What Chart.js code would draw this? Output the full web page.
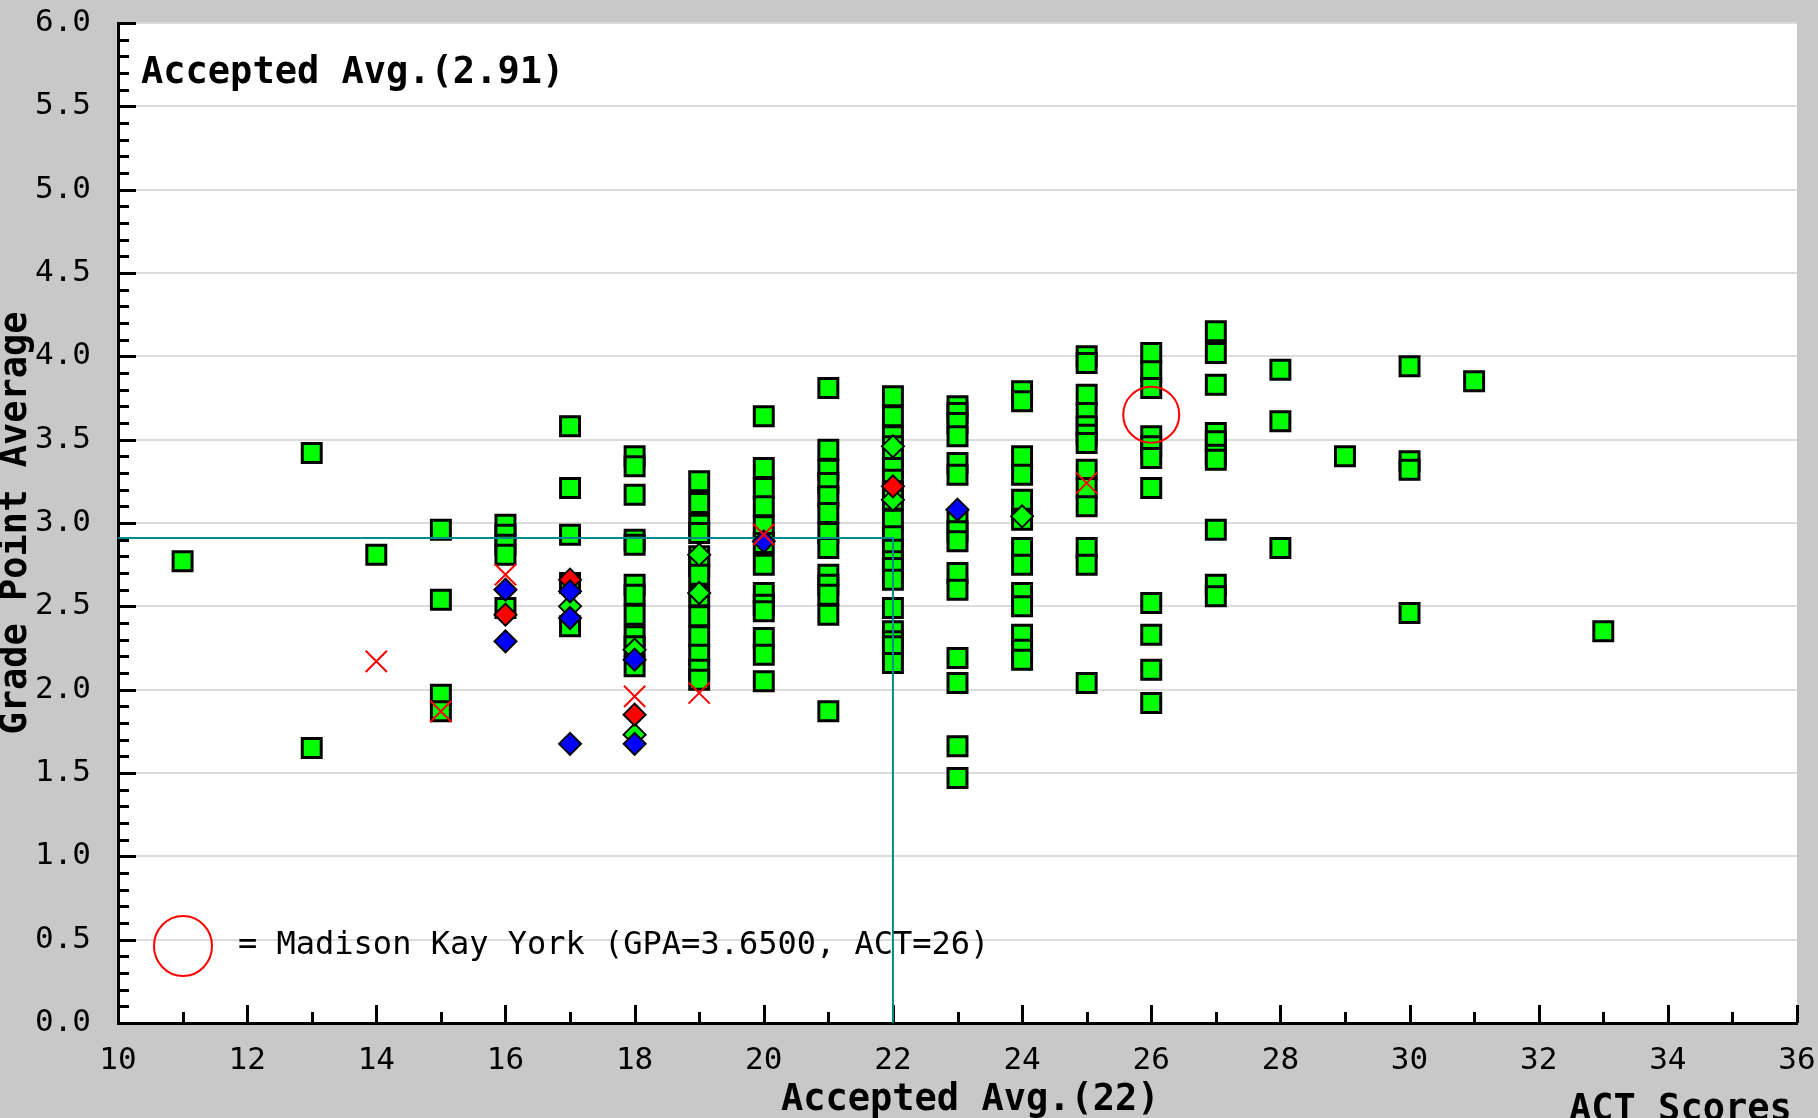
<!DOCTYPE html>
<html>
<head>
<meta charset="utf-8">
<script src="https://cdn.jsdelivr.net/npm/chart.js@4.4.1/dist/chart.umd.min.js"></script>
<style>
  html, body { margin: 0; padding: 0; background: #c8c8c8; }
  canvas { display: block; }
</style>
</head>
<body>
<canvas id="scattergram" width="1818" height="1118" style="width:1818px;height:1118px"></canvas>
<script>
// Médias dos aceitos
const avgAct = 22;
const avgGpa = 2.91;

// Aluna destacada
const student = { name: "Madison Kay York", gpa: 3.65, act: 26 };

// Pontos [ACT, GPA] por tipo de resultado
const accepted = [
  [11, 2.77],
  [13, 3.42], [13, 1.65],
  [14, 2.81],
  [15, 2.96], [15, 2.54], [15, 1.97], [15, 1.87],
  [16, 2.99], [16, 2.93], [16, 2.87], [16, 2.81], [16, 2.49],
  [17, 3.58], [17, 3.21], [17, 2.93], [17, 2.64], [17, 2.38],
  [18, 3.40], [18, 3.34], [18, 3.17], [18, 2.90], [18, 2.87], [18, 2.63], [18, 2.57],
  [18, 2.45], [18, 2.32], [18, 2.26], [18, 2.14],
  [19, 3.25], [19, 3.12], [19, 2.99], [19, 2.94], [19, 2.80], [19, 2.74], [19, 2.69],
  [19, 2.56], [19, 2.44], [19, 2.32], [19, 2.21], [19, 2.12], [19, 2.06],
  [20, 3.64], [20, 3.33], [20, 3.21], [20, 3.10], [20, 2.98], [20, 2.88], [20, 2.75],
  [20, 2.58], [20, 2.51], [20, 2.47], [20, 2.31], [20, 2.21], [20, 2.05],
  [21, 3.81], [21, 3.44], [21, 3.32], [21, 3.24], [21, 3.16], [21, 3.06], [21, 2.94],
  [21, 2.85], [21, 2.69], [21, 2.63], [21, 2.57], [21, 2.45], [21, 1.87],
  [22, 3.76], [22, 3.64], [22, 3.52], [22, 3.46], [22, 3.40], [22, 3.33], [22, 3.26],
  [22, 3.19], [22, 3.14], [22, 3.02], [22, 2.92], [22, 2.84], [22, 2.77], [22, 2.73],
  [22, 2.66], [22, 2.49], [22, 2.35], [22, 2.29], [22, 2.26], [22, 2.16],
  [23, 3.70], [23, 3.66], [23, 3.60], [23, 3.52], [23, 3.36], [23, 3.29], [23, 3.02],
  [23, 2.95], [23, 2.89], [23, 2.70], [23, 2.60], [23, 2.19], [23, 2.04], [23, 1.66], [23, 1.47],
  [24, 3.79], [24, 3.73], [24, 3.40], [24, 3.29], [24, 3.14], [24, 3.02], [24, 2.85],
  [24, 2.75], [24, 2.58], [24, 2.50], [24, 2.33], [24, 2.24], [24, 2.18],
  [25, 4.00], [25, 3.96], [25, 3.77], [25, 3.66], [25, 3.58], [25, 3.53], [25, 3.48],
  [25, 3.32], [25, 3.21], [25, 3.10], [25, 2.85], [25, 2.75], [25, 2.04],
  [26, 4.02], [26, 3.91], [26, 3.81], [26, 3.52], [26, 3.46], [26, 3.39], [26, 3.21],
  [26, 2.52], [26, 2.33], [26, 2.12], [26, 1.92],
  [27, 4.15], [27, 4.02], [27, 3.83], [27, 3.54], [27, 3.49], [27, 3.41], [27, 3.38],
  [27, 2.96], [27, 2.63], [27, 2.56],
  [28, 3.92], [28, 3.61], [28, 2.85],
  [29, 3.40],
  [30, 3.94], [30, 3.37], [30, 3.32], [30, 2.46],
  [31, 3.85],
  [33, 2.35]
];
const denied = [[14, 2.17], [15, 1.87], [16, 2.69], [18, 1.96], [19, 1.98], [20, 2.93], [25, 3.24]];
const waitlisted = [[16, 2.60], [16, 2.29], [17, 2.59], [17, 2.43], [17, 1.675], [18, 2.18], [18, 1.675], [20, 2.89], [23, 3.08]];
const waitlistDenied = [[16, 2.45], [17, 2.66], [18, 1.85], [22, 3.22]];
const waitlistAccepted = [[17, 2.50], [18, 2.24], [18, 1.73], [19, 2.81], [19, 2.58], [22, 3.46], [22, 3.14], [24, 3.04]];

// Eixos
const actMin = 10, actMax = 36, actStep = 2;
const gpaMin = 0, gpaMax = 6, gpaStep = 0.5, gpaMinorStep = 0.1;

const toXY = list => list.map(([x, y]) => ({ x, y }));
const MONO = "'DejaVu Sans Mono', monospace";

Chart.defaults.font.family = MONO;
Chart.defaults.color = "#000";

// Fundo branco da área do gráfico, ticks internos e textos
const scattergramPlugin = {
  id: "scattergram",
  beforeDraw(chart) {
    const { ctx, chartArea: ca } = chart;
    ctx.save();
    ctx.fillStyle = "#fff";
    ctx.fillRect(ca.left, ca.top, ca.right - ca.left, ca.bottom - ca.top);
    ctx.restore();
  },
  beforeDatasetsDraw(chart) {
    const { ctx, chartArea: ca, scales: { x, y } } = chart;
    ctx.save();
    ctx.strokeStyle = "#000";
    ctx.lineWidth = 3;
    ctx.beginPath();
    // ticks do eixo Y (a cada 0.1, maiores a cada 0.5)
    const nY = Math.round((gpaMax - gpaMin) / gpaMinorStep);
    for (let i = 0; i <= nY; i++) {
      const v = gpaMin + i * gpaMinorStep;
      const py = Math.round(y.getPixelForValue(v)) + 0.5;
      const len = i % 5 === 0 ? 18 : 11;
      ctx.moveTo(ca.left, py);
      ctx.lineTo(ca.left + len, py);
    }
    // ticks do eixo X (a cada 1, maiores nos pares)
    for (let v = actMin; v <= actMax; v++) {
      const px = Math.round(x.getPixelForValue(v)) + 0.5;
      const len = v % 2 === 0 ? 18 : 11;
      ctx.moveTo(px, ca.bottom);
      ctx.lineTo(px, ca.bottom - len);
    }
    ctx.stroke();
    ctx.restore();
  },
  afterDraw(chart) {
    const { ctx, chartArea: ca, scales: { x } } = chart;
    ctx.save();
    ctx.fillStyle = "#000";
    ctx.textBaseline = "alphabetic";
    ctx.textAlign = "left";

    ctx.font = "bold 37px " + MONO;
    ctx.fillText("Accepted Avg.(" + avgGpa.toFixed(2) + ")", ca.left + 23, ca.top + 60);
    ctx.fillText("Accepted Avg.(" + avgAct + ")", x.getPixelForValue(avgAct) - 112, 1110);
    ctx.fillText("ACT Scores", ca.right - 228, 1120);

    // legenda da aluna
    const lx = ca.left + 65, ly = ca.bottom - 77;
    ctx.strokeStyle = "#ff0000";
    ctx.lineWidth = 2;
    ctx.beginPath();
    ctx.ellipse(lx, ly, 29, 30, 0, 0, Math.PI * 2);
    ctx.stroke();
    ctx.font = "32px " + MONO;
    ctx.fillText("= " + student.name + " (GPA=" + student.gpa.toFixed(4) + ", ACT=" + student.act + ")", lx + 55, ly + 8);
    ctx.restore();
  }
};

const ctx = document.getElementById("scattergram").getContext("2d");
new Chart(ctx, {
  type: "scatter",
  data: {
    datasets: [
      {
        label: student.name,
        data: [{ x: student.act, y: student.gpa }],
        pointStyle: "circle",
        pointRadius: 28,
        pointBackgroundColor: "rgba(0,0,0,0)",
        pointBorderColor: "#ff0000",
        pointBorderWidth: 2,
        order: 0
      },
      {
        label: "Denied",
        data: toXY(denied),
        pointStyle: "crossRot",
        pointRadius: 15,
        pointBorderColor: "#ff0000",
        pointBorderWidth: 2,
        order: 1
      },
      {
        label: "Waitlisted",
        data: toXY(waitlisted),
        pointStyle: "rectRot",
        pointRadius: 11,
        pointBackgroundColor: "#0000ff",
        pointBorderColor: "#000",
        pointBorderWidth: 2,
        order: 2
      },
      {
        label: "Waitlisted / Denied",
        data: toXY(waitlistDenied),
        pointStyle: "rectRot",
        pointRadius: 11,
        pointBackgroundColor: "#ff0000",
        pointBorderColor: "#000",
        pointBorderWidth: 2,
        order: 2
      },
      {
        label: "Waitlisted / Accepted",
        data: toXY(waitlistAccepted),
        pointStyle: "rectRot",
        pointRadius: 11,
        pointBackgroundColor: "#00ff00",
        pointBorderColor: "#000",
        pointBorderWidth: 2,
        order: 2
      },
      {
        label: "Accepted Avg.",
        data: [{ x: actMin, y: avgGpa }, { x: avgAct, y: avgGpa }, { x: avgAct, y: gpaMin }],
        showLine: true,
        borderColor: "#008b8b",
        borderWidth: 2,
        pointRadius: 0,
        tension: 0,
        order: 3
      },
      {
        label: "Accepted",
        data: toXY(accepted),
        pointStyle: "rect",
        pointRadius: 13.4,
        pointBackgroundColor: "#00ff00",
        pointBorderColor: "#000",
        pointBorderWidth: 3,
        order: 4
      }
    ]
  },
  options: {
    responsive: false,
    animation: false,
    devicePixelRatio: 1,
    layout: { autoPadding: false, padding: { top: 23, right: 21, left: 0, bottom: 0 } },
    plugins: {
      legend: { display: false },
      tooltip: { enabled: false }
    },
    scales: {
      x: {
        type: "linear",
        min: actMin,
        max: actMax,
        ticks: { stepSize: actStep, padding: 19, maxRotation: 0, font: { size: 31 }, color: "#000" },
        grid: { display: false, drawTicks: false },
        border: { color: "#000", width: 3 },
        afterFit(scale) {
          scale.height = 95;
          scale.paddingLeft = 0;
          scale.paddingRight = 0;
        }
      },
      y: {
        type: "linear",
        min: gpaMin,
        max: gpaMax,
        ticks: {
          stepSize: gpaStep,
          padding: 27,
          font: { size: 31 },
          color: "#000",
          callback: v => v.toFixed(1)
        },
        grid: { color: "#dcdcdc", lineWidth: 2, drawTicks: false },
        border: { color: "#000", width: 3 },
        title: {
          display: true,
          text: "Grade Point Average",
          font: { size: 37, weight: "bold", lineHeight: 0.9 },
          color: "#000",
          padding: 0
        },
        afterFit(scale) {
          scale.width = 118;
          scale.paddingTop = 0;
          scale.paddingBottom = 0;
        }
      }
    }
  },
  plugins: [scattergramPlugin]
});
</script>
</body>
</html>
